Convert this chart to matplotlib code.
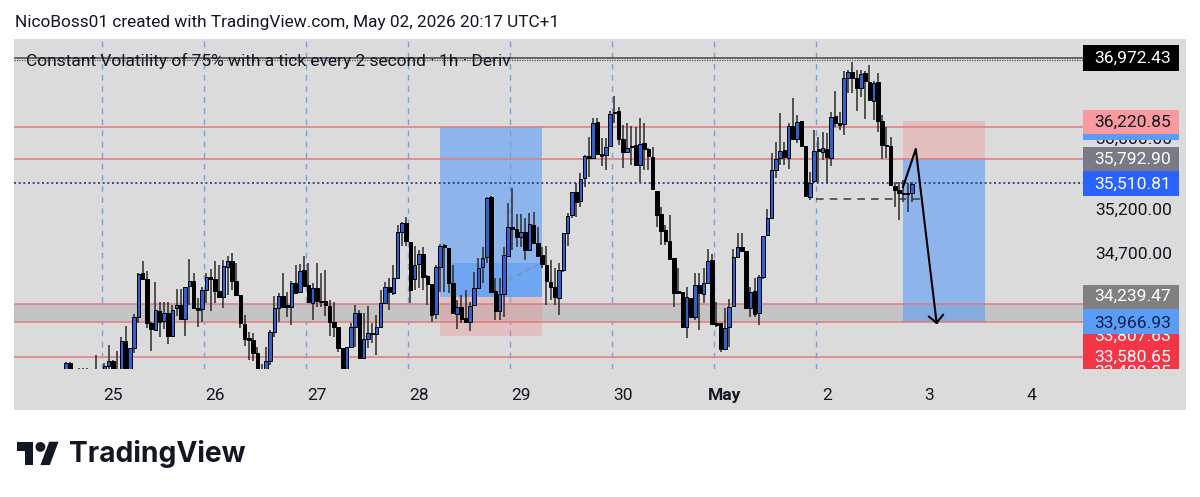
import numpy as np
import matplotlib
matplotlib.use('Agg')
import matplotlib.pyplot as plt
from matplotlib.patches import Rectangle, Polygon, Circle

plt.rcParams['font.family'] = ['Roboto', 'DejaVu Sans']

nan = np.nan

# hourly candles, first one sits at bar index -8, bar 0 is just before Apr 25
first_bar = -8
opens = [
    33330, 33460, nan, 33340, 33340, 33340, nan, 33340, nan, 33340,
    33425, 33480, 33340, 33340, 33705, 33340, 33630, 33980, 34475, 34405,
    33910, 33830, 34045, 33935, 34025, 33765, 34080, 34115, 33955, 34330,
    34385, 34080, 34070, 34285, 34430, 34405, 34270, 34205, 34545, 34610,
    34385, 34225, 33900, 33740, 33720, 33570, 33340, 33340, 33480, 33810,
    34080, 34215, 34115, 34090, 34360, 34260, 34510, 34340, 34135, 34305,
    34160, 34160, 34100, 33920, 33865, 33630, 33340, 33640, 33865, 34025,
    33515, 33730, 33795, 33785, 33865, 34135, 34315, 34250, 34420, 34940,
    35040, 34825, 34405, 34575, 34690, 34440, 34350, 34010, 34545, 34790,
    34760, 34360, 34010, 34090, 33965, 33920, 34115, 34305, 34545, 34655,
    35335, 34270, 34045, 34240, 34665, 34995, 34970, 34880, 34940, 34735,
    35015, 34815, 34680, 34565, 34375, 34315, 34190, 34510, 34925, 35130,
    35390, 35290, 35550, 35800, 35775, 36180, 35820, 35810, 35910, 36295,
    36305, 35990, 35840, 35910, 35920, 35695, 35945, 35875, 35785, 35400,
    35140, 34960, 34835, 34645, 34270, 34260, 33865, 34190, 33980, 34340,
    34240, 34360, 34620, 33910, 33910, 33615, 33865, 34100, 34655, 34770,
    34725, 34080, 34270, 34025, 34430, 34905, 35095, 35640, 35775, 35865,
    35775, 36135, 35990, 36195, 35910, 35335, 35515, 35875, 35840, 35875,
    35775, 36250, 36170, 36160, 36680, 36745, 36680, 36565, 36735, 36635,
    36420, 36635, 36195, 35920, 35910, 35460, 35415, 35380, 35375, 35380,
]
highs = [
    33470, 33470, nan, 33400, 33400, 33400, nan, 33550, nan, 33460,
    33660, 33490, 33595, 33750, 33875, 33630, 34010, 34475, 34610, 34495,
    33920, 34375, 34145, 34145, 34145, 34115, 34295, 34295, 34315, 34635,
    34475, 34190, 34315, 34475, 34520, 34610, 34565, 34620, 34665, 34700,
    34590, 34225, 34000, 33810, 33795, 33640, 33445, 33640, 33830, 34215,
    34250, 34475, 34260, 34385, 34565, 34575, 34665, 34590, 34360, 34590,
    34475, 34510, 34170, 34145, 33865, 33630, 33640, 33910, 34115, 34055,
    34025, 34100, 33910, 34000, 34285, 34375, 34420, 34565, 35020, 35050,
    35110, 34825, 34780, 34735, 34770, 34450, 34350, 34565, 34805, 34805,
    34760, 34565, 34170, 34225, 34285, 34145, 34485, 34645, 34770, 35335,
    35345, 34420, 34420, 34770, 35265, 35435, 35140, 35140, 35095, 35155,
    35165, 34995, 34770, 34780, 34620, 34530, 34590, 34925, 35155, 35390,
    35490, 35605, 35810, 36010, 36225, 36225, 36000, 36000, 36305, 36475,
    36350, 36150, 36170, 36135, 36125, 36225, 36170, 35885, 35900, 35400,
    35220, 35015, 35130, 34645, 34530, 34260, 34315, 34195, 34475, 34475,
    34530, 34745, 34690, 34145, 33910, 34080, 34180, 34745, 34925, 34925,
    34725, 34315, 34420, 34450, 34895, 35200, 35830, 35955, 36285, 35955,
    36170, 36455, 36260, 36195, 35910, 35615, 36090, 36010, 36070, 36055,
    36295, 36530, 36295, 36760, 36770, 36860, 36770, 36770, 36760, 36830,
    36645, 36735, 36260, 36125, 36010, 35505, 35505, 35525, 35490, 35505,
]
lows = [
    33300, 33300, nan, 33300, 33300, 33300, nan, 33300, nan, 33300,
    33300, 33300, 33300, 33300, 33300, 33300, 33570, 33910, 34400, 33855,
    33595, 33830, 33750, 33840, 33675, 33750, 33990, 33955, 33765, 34115,
    34080, 33865, 33920, 34135, 34045, 34135, 34205, 34080, 34225, 34285,
    34225, 33855, 33650, 33490, 33480, 33300, 33300, 33300, 33435, 33750,
    33920, 34090, 33980, 33890, 34250, 34250, 34315, 34135, 33945, 34090,
    34090, 33990, 33765, 33750, 33585, 33300, 33300, 33630, 33640, 33515,
    33515, 33630, 33685, 33550, 33865, 34135, 34055, 34225, 34410, 34780,
    34780, 34135, 34285, 34305, 34285, 34115, 33920, 33955, 34260, 34260,
    34250, 34025, 33840, 33910, 33920, 33820, 34115, 34305, 34360, 34590,
    34250, 33945, 33945, 33980, 34665, 34735, 34770, 34770, 34620, 34735,
    34800, 34655, 34530, 34115, 34170, 34115, 34000, 34485, 34780, 35095,
    35110, 35220, 35445, 35560, 35775, 35820, 35685, 35640, 35905, 36170,
    35920, 35660, 35840, 35695, 35695, 35500, 35640, 35640, 35425, 34995,
    34790, 34790, 34635, 34090, 34250, 33865, 33740, 33980, 33945, 33830,
    34135, 34360, 33890, 33865, 33585, 33615, 33640, 34100, 34655, 34725,
    34080, 33980, 33980, 33890, 34405, 34895, 35095, 35550, 35695, 35695,
    35650, 35990, 35945, 35910, 35345, 35300, 35490, 35490, 35750, 35490,
    35685, 36125, 36090, 36035, 36510, 36510, 36305, 36465, 36215, 36430,
    36205, 36070, 35765, 35775, 35470, 35220, 35075, 35280, 35165, 35280,
]
closes = [
    33460, 33330, nan, 33320, 33320, 33320, nan, 33320, nan, 33425,
    33480, 33340, 33320, 33705, 33340, 33630, 33980, 34465, 34405, 33910,
    33840, 34055, 33920, 34025, 33765, 34055, 34115, 33955, 34315, 34385,
    34080, 34055, 34285, 34430, 34405, 34270, 34205, 34555, 34610, 34385,
    34225, 33910, 33730, 33720, 33570, 33340, 33320, 33480, 33810, 34080,
    34215, 34090, 34090, 34360, 34250, 34495, 34330, 34145, 34305, 34160,
    34145, 34115, 33920, 33865, 33630, 33340, 33640, 33865, 34025, 33515,
    33730, 33795, 33785, 33865, 34135, 34315, 34260, 34420, 34940, 35040,
    34835, 34285, 34565, 34690, 34430, 34350, 34000, 34545, 34780, 34770,
    34360, 34025, 34090, 33955, 33920, 34100, 34305, 34530, 34645, 35325,
    34260, 34045, 34240, 34680, 34995, 34970, 34880, 34940, 34735, 35030,
    34815, 34665, 34575, 34385, 34315, 34205, 34510, 34925, 35120, 35390,
    35275, 35540, 35800, 35775, 36170, 35820, 35800, 35900, 36270, 36285,
    35990, 35840, 35890, 35900, 35695, 35935, 35875, 35800, 35425, 35130,
    34950, 34835, 34635, 34250, 34250, 33865, 34205, 33980, 34340, 34250,
    34360, 34610, 33900, 33890, 33615, 33855, 34090, 34655, 34770, 34725,
    34080, 34260, 34010, 34430, 34895, 35095, 35640, 35765, 35855, 35785,
    36135, 35990, 36180, 35910, 35345, 35490, 35855, 35855, 35885, 35785,
    36240, 36170, 36150, 36680, 36745, 36680, 36565, 36725, 36645, 36430,
    36620, 36195, 35920, 35910, 35470, 35415, 35380, 35370, 35365, 35480,
]

day_labels = ['25', '26', '27', '28', '29', '30', 'May', '2', '3', '4']
price_ticks = [36000, 35200, 34700]
red_levels = [36125, 35763, 34120, 33921, 33525]
top_solid = 36903
top_dotted = 36880
last_level = 35492
swing_level = 35315

fig = plt.figure(figsize=(12, 4.97), dpi=100)
fig.patch.set_facecolor('white')

def pane_rect(left, top, right, bottom):
    return [left / 1200, 1 - bottom / 497, (right - left) / 1200, (bottom - top) / 497]

# background and header, drawn in pixel coordinates
bg = fig.add_axes([0, 0, 1, 1], zorder=0)
bg.set_xlim(0, 1200)
bg.set_ylim(497, 0)
bg.axis('off')
bg.add_patch(Rectangle((14, 39), 1172, 371, color='#dbdbdb', lw=0))
bg.text(15, 23, 'NicoBoss01 created with TradingView.com, May 02, 2026 20:17 UTC+1',
        fontsize=12.4, color='#131722', va='center')

# TradingView logo
lx, ly, sx, sy = 17, 436.5, 1.17, 1.3
bg.add_patch(Polygon([(lx + sx * a, ly + sy * b) for a, b in
                      [(14, 22), (7, 22), (7, 11), (0, 11), (0, 4), (14, 4)]], color='#131722', lw=0))
bg.add_patch(Polygon([(lx + sx * a, ly + sy * b) for a, b in
                      [(28, 22), (20, 22), (27.5, 4), (35.5, 4)]], color='#131722', lw=0))
bg.add_patch(Circle((lx + sx * 20, ly + sy * 8), 4.9, color='#131722', lw=0))
bg.text(68.5, 453.5, 'TradingView', fontsize=20.3, fontweight='bold', family=['Inter', 'Roboto'],
        color='#131722', va='center')

# chart pane
ax = fig.add_axes(pane_rect(14, 40, 1082.6, 369), zorder=1)
ax.patch.set_alpha(0)
for s in ax.spines.values():
    s.set_visible(False)
ax.set_xlim(-20.28, 231.15)
ax.set_ylim(33388, 37109.5)

bars = np.arange(first_bar, first_bar + len(opens))
opens_a, highs_a, lows_a, closes_a = map(np.array, (opens, highs, lows, closes))

# day separators
for n in range(8):
    ax.axvline(0.42 + 24 * n, color='#7aa0d8', lw=1, dashes=(4, 4), zorder=1)

# grey zone and horizontal levels
ax.axhspan(red_levels[3], red_levels[2], color='#c4c4c4', lw=0, zorder=1)
for lev in red_levels:
    ax.axhline(lev, color='#dd7b80', lw=1.1, zorder=2)
ax.axhline(top_solid, color='#444444', lw=1.1, zorder=2)
ax.axhline(top_dotted, color='#555555', lw=0.9, ls=(0, (1, 1)), zorder=2)
ax.axhline(last_level, color='#27357a', lw=1.2, ls=(0, (1.2, 1.6)), zorder=2)

# position tools
ax.add_patch(Rectangle((80, 34204), 24, 36125 - 34204, color='#5b9cf6', alpha=0.6, lw=0, zorder=1.5))
ax.add_patch(Rectangle((82.6, 34204), 21.4, 34588 - 34204, color='#5b9cf6', alpha=0.6, lw=0, zorder=1.5))
ax.add_patch(Rectangle((80, 33763), 24, 34204 - 33763, color='#f77c80', alpha=0.28, lw=0, zorder=1.5))
ax.add_patch(Rectangle((189, 33921), 19.2, 35763 - 33921, color='#5b9cf6', alpha=0.6, lw=0, zorder=1.5))
ax.add_patch(Rectangle((189, 35763), 19.2, 36190 - 35763, color='#f77c80', alpha=0.3, lw=0, zorder=1.5))
ax.plot([92, 103], [34290, 34570], color='#7d8fa8', lw=1, dashes=(4, 3), zorder=1.8)

# candles
ok = ~np.isnan(opens_a)
up = closes_a >= opens_a
ax.vlines(bars[ok], lows_a[ok], highs_a[ok], color='#2b2b2b', lw=1.1, zorder=3)
body_low = np.minimum(opens_a, closes_a)
body_h = np.abs(closes_a - opens_a)
ax.bar(bars[ok & up], body_h[ok & up], bottom=body_low[ok & up], width=0.84,
       color='#2f62d0', edgecolor='black', lw=0.7, zorder=4)
ax.bar(bars[ok & ~up], body_h[ok & ~up], bottom=body_low[ok & ~up], width=0.84,
       color='black', edgecolor='black', lw=0.7, zorder=4)

# swing line and drawn arrow
ax.plot([168.4, 194], [swing_level, swing_level], color='#3a3a3a', lw=1.1, dashes=(5, 4), zorder=5)
ax.plot([188.9, 191.9, 196.8], [35447, 35876, 33910], color='black', lw=1.5, zorder=6)
ax.plot([195, 196.8, 198.3], [33980, 33910, 34000], color='black', lw=1.5, zorder=6)

# axes ticks
ax.set_xticks(3 + 24 * np.arange(len(day_labels)))
ax.set_xticklabels(day_labels, fontsize=12.5, color='#131722')
ax.get_xticklabels()[6].set_fontweight('bold')
ax.tick_params(axis='x', length=0, pad=14)
ax.yaxis.tick_right()
ax.set_yticks(price_ticks)
ax.set_yticklabels(['{:,.2f}'.format(p) for p in price_ticks], fontsize=12.6, color='#131722')
ax.tick_params(axis='y', length=0, pad=9)

# top layer: legend text and price labels
top = fig.add_axes([0, 0, 1, 1], zorder=2)
top.set_xlim(0, 1200)
top.set_ylim(497, 0)
top.axis('off')
top.patch.set_alpha(0)
top.text(26, 61, 'Constant Volatility of 75% with a tick every 2 second · 1h · Deriv',
         fontsize=12.47, color='#131722', va='center')

tags = [
    (45.3, 70.7, '#000000', '36,972.43', 'white', 56.5),
    (110, 133.7, '#f89a9f', '36,220.85', '#131722', 120.5),
    (133.7, 140, '#5b9cf6', None, None, None),
    (146.7, 171.3, '#787b86', '35,792.90', 'white', 157.5),
    (171.3, 195.7, '#2962ff', '35,510.81', 'white', 182.5),
    (284.7, 309.3, '#808080', '34,239.47', 'white', 295),
    (309.3, 334, '#5b9cf6', '33,966.93', '#0c2050', 321.5),
    (334, 369.3, '#f23645', '33,580.65', 'white', 356),
]
for y0, y1, col, txt, tcol, yc in tags:
    top.add_patch(Rectangle((1082.7, y0), 96, y1 - y0, color=col, lw=0))
    if txt:
        top.text(1170.7, yc, txt, fontsize=12.6, color=tcol, ha='right', va='center_baseline')

# labels half hidden by the red tag
clip = Rectangle((1082.7, 334), 96, 35.3, transform=top.transData)
for yc, txt in [(335, '33,807.63'), (371, '33,400.35')]:
    t = top.text(1170.7, yc, txt, fontsize=12.6, color='white', ha='right', va='center_baseline')
    t.set_clip_path(clip)
    t.set_clip_on(True)

fig.savefig('out.png', dpi=100)
